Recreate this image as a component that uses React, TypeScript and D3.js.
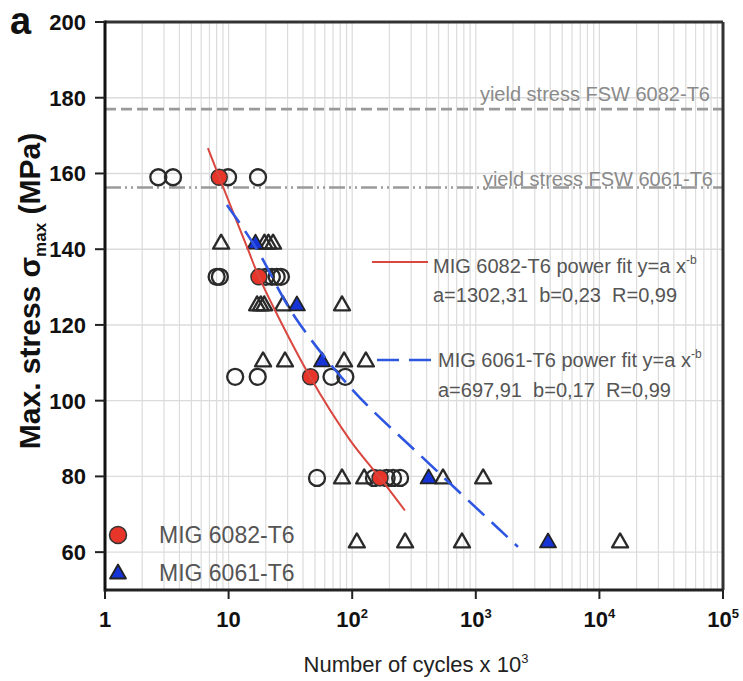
import React from "react";
import * as d3 from "d3";

// ---- data ----
const xTickValues = [1, 10, 100, 1000, 10000, 100000];
const xTickBase = ["1", "10", "10", "10", "10", "10"];
const xTickExp = ["", "", "2", "3", "4", "5"];
const yTickValues = [60, 80, 100, 120, 140, 160, 180, 200];

const yieldValues = [177, 156.3];
const yieldLabels = ["yield stress FSW 6082-T6", "yield stress FSW 6061-T6"];

// MIG 6082-T6 (filled red circles) [cycles x10^3, MPa]
const mig6082 = [[8.4, 159], [17.6, 132.7], [46, 106.3], [168, 79.6]];
// MIG 6061-T6 (filled blue triangles)
const mig6061 = [[16.5, 141.6], [35.7, 125.3], [57, 110.5], [415, 79.6], [3840, 62.7]];
// other open circles
const openCircles = [
  [2.7, 159], [3.55, 159], [9.9, 159], [17.3, 159],
  [8.0, 132.7], [8.5, 132.7], [20, 132.7], [22.4, 132.7], [24.5, 132.7], [26.5, 132.7],
  [11.3, 106.3], [17.2, 106.3], [68, 106.3], [88, 106.3],
  [51.9, 79.6], [150, 79.6], [190, 79.6], [214, 79.6], [244, 79.6],
];
// other open triangles
const openTriangles = [
  [8.7, 141.6], [19.5, 141.6], [21, 141.6], [22.9, 141.6],
  [17, 125.3], [18.2, 125.3], [19.4, 125.3], [27.5, 125.3], [82.7, 125.3],
  [19, 110.5], [28.6, 110.5], [86, 110.5], [129, 110.5],
  [82.7, 79.6], [125, 79.6], [543, 79.6], [1147, 79.6],
  [109, 62.7], [268, 62.7], [773, 62.7], [14700, 62.7],
];
// power-fit curves
const fit6082 = [[6.8, 166.7], [8.4, 159], [14.4, 139.8], [17.6, 132.7], [45.6, 106.3], [96, 89.6], [168, 79.6], [267, 71]];
const fit6061 = [[9.7, 151.7], [16.7, 140.3], [34.4, 122.1], [101, 102.8], [374, 84.9], [2194, 61.4]];

const fitLabel6082 = ["MIG 6082-T6 power fit y=a x", "a=1302,31  b=0,23  R=0,99"];
const fitLabel6061 = ["MIG 6061-T6 power fit y=a x", "a=697,91  b=0,17  R=0,99"];
const legendLabels = ["MIG 6082-T6", "MIG 6061-T6"];

const W = 743, H = 681;
const L = 105, R = 723, T = 22, B = 590;

export default function App() {
  const x = d3.scaleLog().domain([1, 1e5]).range([L, R]);
  const y = d3.scaleLinear().domain([50, 200]).range([B, T]);

  const minor: number[] = [];
  for (let e = 0; e < 5; e++) for (let k = 1; k <= 9; k++) minor.push(k * Math.pow(10, e));

  const line = d3.line<number[]>().x(d => x(d[0])).y(d => y(d[1])).curve(d3.curveCatmullRom.alpha(0.5));
  const tri = (cx: number, cy: number) => `M${cx},${cy - 8.5}L${cx + 8},${cy + 5.5}L${cx - 8},${cy + 5.5}Z`;

  const font = "Liberation Sans, Arial, sans-serif";
  const gray = "#9a9a9a";
  const pre = { whiteSpace: "pre" as const };

  return (
    <svg width={W} height={H} style={{ position: "absolute", left: 0, top: 0, background: "#fff" }} fontFamily={font}>
      {/* grid */}
      {minor.map((v, i) => (
        <line key={"gx" + i} x1={x(v)} x2={x(v)} y1={T} y2={B} stroke="#dcdcdc" strokeWidth={1.2} />
      ))}
      {yTickValues.filter(v => v < 200).map(v => (
        <line key={"gy" + v} x1={L} x2={R} y1={y(v)} y2={y(v)} stroke="#dcdcdc" strokeWidth={1.4} />
      ))}

      {/* yield lines */}
      <line x1={L} x2={R} y1={y(yieldValues[0])} y2={y(yieldValues[0])} stroke={gray} strokeWidth={2.6} strokeDasharray="11,5" />
      <line x1={L} x2={R} y1={y(yieldValues[1])} y2={y(yieldValues[1])} stroke={gray} strokeWidth={2.6} strokeDasharray="16,4,2,4,2,4" />
      <text x={710} y={y(yieldValues[0]) - 8} textAnchor="end" fontSize={20} fill="#8a8a8a">{yieldLabels[0]}</text>
      <text x={713} y={y(yieldValues[1]) - 1} textAnchor="end" fontSize={20} fill="#8a8a8a">{yieldLabels[1]}</text>

      {/* open markers */}
      {openCircles.map((d, i) => (
        <circle key={"oc" + i} cx={x(d[0])} cy={y(d[1])} r={8} fill="none" stroke="#2a2a2a" strokeWidth={2.3} />
      ))}
      {openTriangles.map((d, i) => (
        <path key={"ot" + i} d={tri(x(d[0]), y(d[1]))} fill="none" stroke="#2a2a2a" strokeWidth={2.3} strokeLinejoin="round" />
      ))}
      {/* filled markers */}
      {mig6082.map((d, i) => (
        <circle key={"rc" + i} cx={x(d[0])} cy={y(d[1])} r={8} fill="#e8352a" stroke="#333" strokeWidth={1.5} />
      ))}
      {mig6061.map((d, i) => (
        <path key={"bt" + i} d={tri(x(d[0]), y(d[1]))} fill="#1533d6" stroke="#222" strokeWidth={1.8} strokeLinejoin="round" />
      ))}

      {/* fits */}
      <path d={line(fit6082) || ""} fill="none" stroke="#d9473f" strokeWidth={2} />
      <path d={line(fit6061) || ""} fill="none" stroke="#2f56e0" strokeWidth={2.6} strokeDasharray="22,10" />

      {/* fit labels */}
      <line x1={372} x2={428} y1={262} y2={262} stroke="#d9473f" strokeWidth={2} />
      <text x={433} y={273} fontSize={20} fill="#555" style={pre}>{fitLabel6082[0]}<tspan dy={-9} fontSize={12}>-b</tspan></text>
      <text x={433} y={302} fontSize={20} fill="#555" style={pre}>{fitLabel6082[1]}</text>
      <line x1={377} x2={434} y1={360} y2={360} stroke="#2f56e0" strokeWidth={2.6} strokeDasharray="22,10" />
      <text x={438} y={367} fontSize={20} fill="#555" style={pre}>{fitLabel6061[0]}<tspan dy={-9} fontSize={12}>-b</tspan></text>
      <text x={438} y={397} fontSize={20} fill="#555" style={pre}>{fitLabel6061[1]}</text>

      {/* legend */}
      <circle cx={118} cy={535} r={8.5} fill="#e8352a" stroke="#333" strokeWidth={1.5} />
      <text x={159} y={543} fontSize={23} fill="#555">{legendLabels[0]}</text>
      <path d={tri(118, 573)} fill="#1533d6" stroke="#222" strokeWidth={1.8} strokeLinejoin="round" />
      <text x={159} y={581} fontSize={23} fill="#555">{legendLabels[1]}</text>

      {/* frame */}
      <line x1={L} x2={R} y1={T} y2={T} stroke="#333" strokeWidth={3} />
      <line x1={R} x2={R} y1={T} y2={B} stroke="#333" strokeWidth={3} />
      <line x1={L} x2={R} y1={B} y2={B} stroke="#222" strokeWidth={3} />
      <line x1={L} x2={L} y1={T - 1.5} y2={B + 1.5} stroke="#111" strokeWidth={3} />

      {/* y ticks */}
      {yTickValues.map(v => (
        <g key={"yt" + v}>
          <line x1={L - 10} x2={L} y1={y(v)} y2={y(v)} stroke="#222" strokeWidth={2} />
          <text x={86} y={y(v) + 8} textAnchor="end" fontSize={22} fontWeight="bold" fill="#111">{v}</text>
        </g>
      ))}
      {/* x ticks */}
      {xTickValues.map((v, i) => (
        <g key={"xt" + v}>
          <line x1={x(v)} x2={x(v)} y1={B} y2={B + 9} stroke="#222" strokeWidth={2} />
          <text x={x(v)} y={627} textAnchor="middle" fontSize={22} fontWeight="bold" fill="#111">
            {xTickBase[i]}
            {xTickExp[i] ? <tspan dy={-9} fontSize={13}>{xTickExp[i]}</tspan> : null}
          </text>
        </g>
      ))}

      {/* axis titles */}
      <text x={416} y={672} textAnchor="middle" fontSize={22} fill="#222">
        Number of cycles x 10<tspan dy={-9} fontSize={13}>3</tspan>
      </text>
      <text transform="translate(40,291) rotate(-90)" textAnchor="middle" fontSize={30} fontWeight="bold" fill="#111">
        Max. stress σ<tspan dy={6} fontSize={17}>max</tspan><tspan dy={-6}> (MPa)</tspan>
      </text>
      <text x={10} y={34} fontSize={38} fontWeight="bold" fill="#111">a</text>
    </svg>
  );
}
